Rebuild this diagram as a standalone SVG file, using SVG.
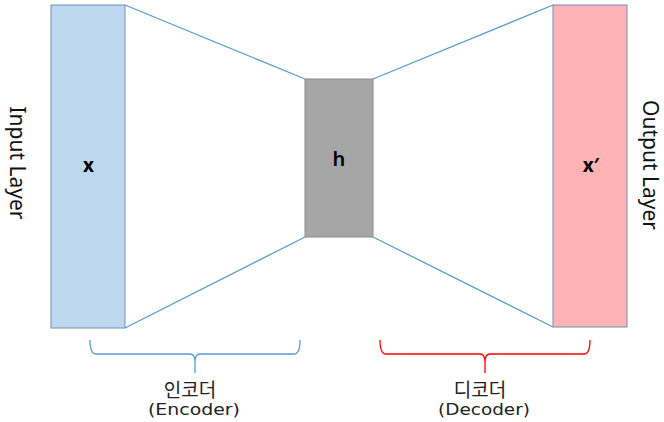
<svg xmlns="http://www.w3.org/2000/svg" width="664" height="422" viewBox="0 0 664 422">
<style>
.lbl{font-family:"Noto Sans","Noto Sans CJK KR",sans-serif;fill:#000}
.big{font-size:21px;font-weight:normal;fill:#111}
.var{font-size:19px;font-weight:bold;text-anchor:middle}
.cap{font-family:"Noto Sans CJK KR",sans-serif;font-size:19px;text-anchor:middle;fill:#222}
.cap2{font-family:"DejaVu Sans","Noto Sans",sans-serif;font-size:15.5px;fill:#222}
.conn{stroke:#5B9BD5;stroke-width:1.3;fill:none}
</style>
<rect width="664" height="422" fill="#fff"/>
<g id="connectors">
<line class="conn" x1="125" y1="5" x2="305" y2="79"/>
<line class="conn" x1="125" y1="328" x2="305" y2="237"/>
<line class="conn" x1="373" y1="79" x2="553" y2="5"/>
<line class="conn" x1="373" y1="237" x2="553" y2="327"/>
</g>
<g id="input">
<rect x="51" y="5" width="74" height="323" fill="#BDD7EE" stroke="#6E90B8" stroke-width="1"/>
<text class="lbl var" x="88.5" y="172">x</text>
<text class="lbl big" transform="translate(10,163) rotate(90)" text-anchor="middle">Input Layer</text>
</g>
<g id="hidden">
<rect x="305" y="79" width="68" height="158" fill="#A6A6A6" stroke="#8C8C8C" stroke-width="1"/>
<text class="lbl var" x="339" y="166" style="font-size:20px;font-weight:600">h</text>
</g>
<g id="output">
<rect x="553" y="5" width="74" height="322" fill="#FFB3B5" stroke="#6E90B8" stroke-width="1"/>
<text class="lbl var" x="591" y="172">x′</text>
<text class="lbl big" transform="translate(643,165) rotate(90)" text-anchor="middle">Output Layer</text>
</g>
<g id="encoder">
<path d="M90,340 Q90,354 96,354 L190,354 Q195,354 195,362 L195,373 M195,362 Q195,354 200,354 L294,354 Q300,354 300,340" fill="none" stroke="#5B9BD5" stroke-width="1.3"/>
<text class="cap" x="190" y="397">인코더</text>
<text class="cap2" x="148" y="415" textLength="92" lengthAdjust="spacingAndGlyphs">(Encoder)</text>
</g>
<g id="decoder">
<path d="M380,340 Q380,354 386,354 L480,354 Q485,354 485,362 L485,373 M485,362 Q485,354 490,354 L584,354 Q590,354 590,340" fill="none" stroke="#FF0000" stroke-width="1.3"/>
<text class="cap" x="480" y="397">디코더</text>
<text class="cap2" x="438" y="415" textLength="92" lengthAdjust="spacingAndGlyphs">(Decoder)</text>
</g>
</svg>
